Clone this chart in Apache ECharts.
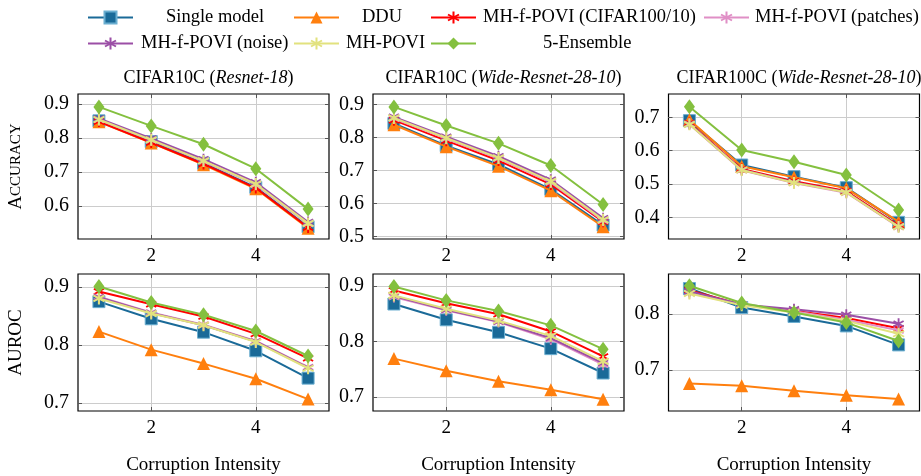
<!DOCTYPE html>
<html>
<head>
<meta charset="utf-8">
<script src="https://cdn.jsdelivr.net/npm/echarts@6/dist/echarts.min.js"></script>
<style>
  html, body { margin: 0; padding: 0; background: #fff; }
  #chart { width: 921px; height: 476px; }
</style>
</head>
<body>
<div id="chart"></div>
<script>
// corruption intensity on the x axis
const xValues = [1, 2, 3, 4, 5];
const xTicks = [2, 4];

const methods = [
    "Single model",
    "DDU",
    "MH-f-POVI (CIFAR100/10)",
    "MH-f-POVI (patches)",
    "MH-f-POVI (noise)",
    "MH-POVI",
    "5-Ensemble"
];

// one row per method, same order as `methods`
const accC10Resnet18 = [
    [0.851, 0.790, 0.726, 0.655, 0.539],
    [0.848, 0.786, 0.722, 0.651, 0.535],
    [0.849, 0.787, 0.724, 0.653, 0.537],
    [0.854, 0.794, 0.732, 0.663, 0.547],
    [0.858, 0.799, 0.738, 0.670, 0.553],
    [0.855, 0.795, 0.733, 0.665, 0.549],
    [0.892, 0.836, 0.782, 0.710, 0.591]
];
const accC10Wrn = [
    [0.842, 0.775, 0.718, 0.643, 0.535],
    [0.838, 0.772, 0.713, 0.639, 0.530],
    [0.852, 0.790, 0.730, 0.658, 0.545],
    [0.857, 0.796, 0.736, 0.664, 0.548],
    [0.862, 0.802, 0.743, 0.672, 0.556],
    [0.859, 0.798, 0.738, 0.667, 0.551],
    [0.892, 0.836, 0.782, 0.715, 0.597]
];
const accC100Wrn = [
    [0.690, 0.557, 0.522, 0.489, 0.385],
    [0.693, 0.553, 0.520, 0.487, 0.387],
    [0.683, 0.545, 0.508, 0.479, 0.376],
    [0.679, 0.541, 0.503, 0.474, 0.371],
    [0.681, 0.543, 0.505, 0.476, 0.373],
    [0.679, 0.542, 0.504, 0.475, 0.372],
    [0.732, 0.602, 0.567, 0.527, 0.422]
];
const aurocC10Resnet18 = [
    [0.8745, 0.845, 0.822, 0.790, 0.743],
    [0.823, 0.792, 0.768, 0.742, 0.707],
    [0.892, 0.870, 0.849, 0.819, 0.777],
    [0.883, 0.856, 0.835, 0.807, 0.762],
    [0.882, 0.855, 0.834, 0.806, 0.761],
    [0.880, 0.854, 0.834, 0.805, 0.760],
    [0.9005, 0.873, 0.852, 0.824, 0.781]
];
const aurocC10Wrn = [
    [0.8675, 0.839, 0.8165, 0.787, 0.743],
    [0.769, 0.747, 0.728, 0.713, 0.6955],
    [0.892, 0.869, 0.849, 0.818, 0.773],
    [0.880, 0.856, 0.835, 0.804, 0.758],
    [0.882, 0.857, 0.836, 0.806, 0.761],
    [0.883, 0.859, 0.8375, 0.810, 0.764],
    [0.899, 0.874, 0.855, 0.829, 0.786]
];
const aurocC100Wrn = [
    [0.846, 0.812, 0.796, 0.779, 0.745],
    [0.676, 0.672, 0.663, 0.655, 0.648],
    [0.843, 0.817, 0.806, 0.793, 0.775],
    [0.838, 0.8175, 0.8055, 0.790, 0.771],
    [0.841, 0.8175, 0.809, 0.799, 0.783],
    [0.837, 0.816, 0.803, 0.788, 0.765],
    [0.851, 0.820, 0.803, 0.785, 0.752]
];

const yTicksAccR18 = [0.6, 0.7, 0.8, 0.9];
const yTicksAccWrn = [0.5, 0.6, 0.7, 0.8, 0.9];
const yTicksAcc100 = [0.4, 0.5, 0.6, 0.7];
const yTicksAuroc10 = [0.7, 0.8, 0.9];
const yTicksAuroc100 = [0.7, 0.8];

const FONT = "Liberation Serif";
const asterisk = "path://M-0.8,-5L0.8,-5L0.8,5L-0.8,5Z M3.93,-3.19L4.73,-1.81L-3.93,3.19L-4.73,1.81Z M-4.73,-1.81L-3.93,-3.19L4.73,1.81L3.93,3.19Z";

const styles = [
    { color: "#1a6a98", symbol: "rect", size: 12, border: "#6aaed0" },
    { color: "#ff7f0e", symbol: "triangle", size: 13 },
    { color: "#ff0000", symbol: asterisk, size: 11 },
    { color: "#e08fc6", symbol: asterisk, size: 11 },
    { color: "#9b4fa6", symbol: asterisk, size: 11 },
    { color: "#e2e27e", symbol: asterisk, size: 12 },
    { color: "#84c03f", symbol: "diamond", size: [11, 15] }
];

const COLS = [78, 373, 668.5];
const ROWS = [94, 274];
const W = 251, H = 145;

const panels = [
    { data: accC10Resnet18, min: 0.503, max: 0.930, ticks: yTicksAccR18, col: 0, row: 0 },
    { data: accC10Wrn, min: 0.493, max: 0.931, ticks: yTicksAccWrn, col: 1, row: 0 },
    { data: accC100Wrn, min: 0.335, max: 0.770, ticks: yTicksAcc100, col: 2, row: 0 },
    { data: aurocC10Resnet18, min: 0.6865, max: 0.922, ticks: yTicksAuroc10, col: 0, row: 1 },
    { data: aurocC10Wrn, min: 0.6745, max: 0.9216, ticks: yTicksAuroc10, col: 1, row: 1 },
    { data: aurocC100Wrn, min: 0.6266, max: 0.872, ticks: yTicksAuroc100, col: 2, row: 1 }
];

const titles = [
    ["CIFAR10C (", "Resnet-18", ")"],
    ["CIFAR10C (", "Wide-Resnet-28-10", ")"],
    ["CIFAR100C (", "Wide-Resnet-28-10", ")"]
];

const grid = [], xAxis = [], yAxis = [], series = [], title = [];
const tickStyle = { show: true, inside: true, length: 4, lineStyle: { color: "#555", width: 1 } };

panels.forEach((p, i) => {
    grid.push({
        left: COLS[p.col], top: ROWS[p.row], width: W, height: H,
        show: true, borderColor: "#000", borderWidth: 1.2, backgroundColor: "transparent"
    });
    xAxis.push({
        type: "value", gridIndex: i, min: 0.6, max: 5.4,
        axisLine: { show: false },
        axisTick: Object.assign({ customValues: xTicks }, tickStyle),
        axisLabel: { customValues: xTicks, fontFamily: FONT, fontSize: 19, color: "#000", margin: 8 },
        splitLine: { show: true, lineStyle: { color: "#cccccc", width: 1 } },
        name: p.row === 1 ? "Corruption Intensity" : "",
        nameLocation: "middle", nameGap: 45,
        nameTextStyle: { fontFamily: FONT, fontSize: 19, color: "#000" }
    });
    let yName = "";
    if (p.col === 0) yName = p.row === 0 ? "{a|A}{s|CCURACY}" : "AUROC";
    yAxis.push({
        type: "value", gridIndex: i, min: p.min, max: p.max,
        axisLine: { show: false },
        axisTick: Object.assign({ customValues: p.ticks }, tickStyle),
        axisLabel: {
            customValues: p.ticks, fontFamily: FONT, fontSize: 20, color: "#000", margin: 9,
            formatter: (v) => v.toFixed(1)
        },
        splitLine: { show: true, lineStyle: { color: "#cccccc", width: 1 } },
        name: yName, nameLocation: "middle", nameRotate: 90, nameGap: 52,
        nameTextStyle: {
            fontFamily: FONT, fontSize: 19, color: "#000",
            rich: {
                a: { fontFamily: FONT, fontSize: 19, color: "#000" },
                s: { fontFamily: FONT, fontSize: 15, color: "#000" }
            }
        }
    });

    p.data.forEach((vals, m) => {
        const s = styles[m];
        series.push({
            name: methods[m], type: "line",
            xAxisIndex: i, yAxisIndex: i,
            data: xValues.map((x, k) => [x, vals[k]]),
            symbol: s.symbol, symbolSize: s.size,
            lineStyle: { color: s.color, width: 2 },
            itemStyle: { color: s.color, borderColor: s.border || s.color, borderWidth: s.border ? 1 : 0 },
            emphasis: { disabled: true },
            animation: false, z: 2 + m
        });
    });
});

// mirrored inside ticks on the right and top edges
panels.forEach((p, i) => {
    xAxis.push({
        type: "value", gridIndex: i, position: "top", min: 0.6, max: 5.4,
        axisLine: { show: false }, axisLabel: { show: false }, splitLine: { show: false },
        axisTick: Object.assign({ customValues: xTicks }, tickStyle)
    });
    yAxis.push({
        type: "value", gridIndex: i, position: "right", min: p.min, max: p.max,
        axisLine: { show: false }, axisLabel: { show: false }, splitLine: { show: false },
        axisTick: Object.assign({ customValues: p.ticks }, tickStyle)
    });
});

titles.forEach((t, c) => {
    title.push({
        text: "{n|" + t[0] + "}{i|" + t[1] + "}{n|" + t[2] + "}",
        left: COLS[c] + W / 2, top: 64, textAlign: "center",
        textStyle: {
            fontWeight: "normal",
            rich: {
                n: { fontFamily: FONT, fontSize: 18, fontWeight: "normal", color: "#000" },
                i: { fontFamily: FONT, fontSize: 18, fontWeight: "normal", fontStyle: "italic", color: "#000" }
            }
        }
    });
});

// legend placement: [left, top, text padding]
const legendPos = [
    [87, 8, 28], [293, 8, 18], [430, 8, 2], [703, 8, 1],
    [87, 34, 3], [293, 34, 2], [430, 34, 62]
];
const legend = methods.map((name, m) => ({
    data: [name],
    left: legendPos[m][0], top: legendPos[m][1],
    padding: 0,
    itemWidth: 45, itemHeight: 15,
    selectedMode: false,
    textStyle: { fontFamily: FONT, fontSize: 18.5, color: "#000", padding: [0, 0, 0, legendPos[m][2]] }
}));

const chart = echarts.init(document.getElementById("chart"));
chart.setOption({
    animation: false,
    backgroundColor: "#fff",
    title, legend, grid, xAxis, yAxis, series
});
</script>
</body>
</html>
